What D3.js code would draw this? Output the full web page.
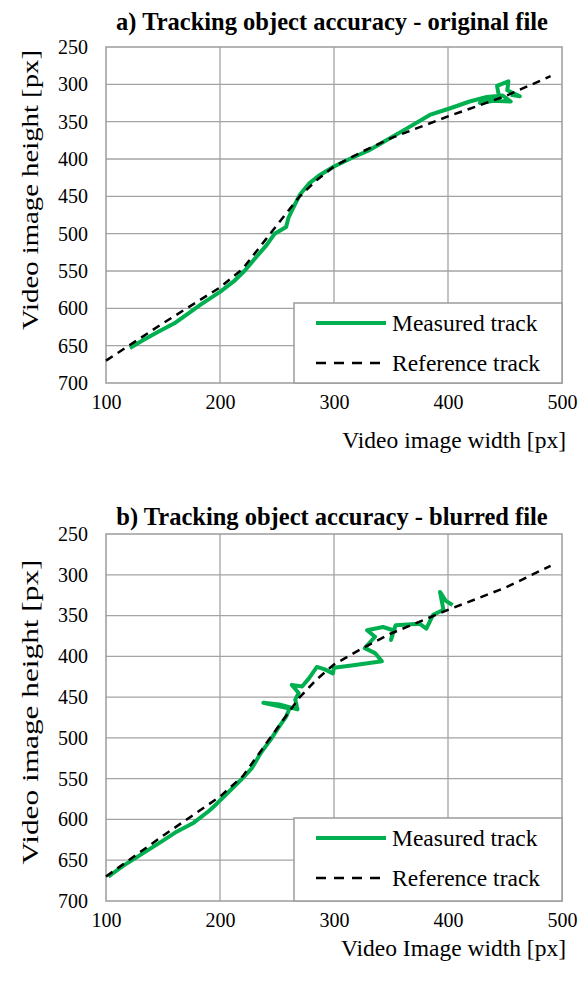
<!DOCTYPE html>
<html>
<head>
<meta charset="utf-8">
<script src="https://cdn.jsdelivr.net/npm/d3@7"></script>
<style>
  body { margin: 0; background: #fff; }
  svg { display: block; }
  text { font-family: "Liberation Serif", "Times New Roman", serif; fill: #000; }
</style>
</head>
<body>
<div id="chart"></div>
<script>
// axis ticks
const xTicks = [100, 200, 300, 400, 500];
const yTicks = [250, 300, 350, 400, 450, 500, 550, 600, 650, 700];

// reference track (same in both panels)
const refX = [100, 150, 200, 220, 240, 258, 270, 285, 300, 325, 350, 400, 450, 490];
const refY = [670, 620, 572, 547, 508, 473, 450, 428, 410, 390, 372, 343, 316, 289];

// measured track, original file
const origX = [121, 132, 145, 160, 172, 183, 200, 212, 222, 232, 241, 248, 258, 260, 264, 270, 278, 288, 300, 315, 330, 346, 364, 384, 402, 419, 434, 448, 455, 440, 428, 445, 443, 453, 452, 463, 455];
const origY = [653, 643, 632, 620, 607, 595, 578, 564, 549, 531, 515, 500, 491, 479, 466, 448, 433, 421, 410, 399, 389, 375, 359, 341, 332, 323, 317, 315, 323, 322, 325, 318, 302, 296, 308, 316, 314];

// measured track, blurred file
const blurX = [102, 115, 133, 150, 162, 177, 190, 197, 210, 218, 228, 236, 244, 251, 258, 261, 238, 252, 268, 266, 269, 263, 272, 278, 285, 292, 299, 300, 317, 342, 336, 327, 336, 329, 343, 352, 350, 354, 375, 381, 387, 396, 393, 398, 404];
const blurY = [670, 657, 641, 626, 615, 604, 590, 581, 563, 552, 537, 518, 503, 488, 474, 464, 457, 459, 465, 453, 445, 435, 437, 427, 413, 416, 421, 414, 411, 406, 396, 390, 376, 368, 364, 368, 380, 362, 360, 366, 349, 343, 321, 332, 337];

const titles = ["a) Tracking object accuracy - original file", "b) Tracking object accuracy - blurred file"];
const xTitles = ["Video image width [px]", "Video Image width [px]"];
const yTitle = "Video image height [px]";
const legendNames = ["Measured track", "Reference track"];

const svg = d3.select("#chart").append("svg")
    .attr("width", 585)
    .attr("height", 981);

const green = "#00b050";

// one panel
function drawPanel(cfg) {
    const left = 106, right = 562;
    const xScale = d3.scaleLinear().domain([100, 500]).range([left, right]);
    const yScale = d3.scaleLinear().domain([250, 700]).range([cfg.top, cfg.bottom]);

    const g = svg.append("g");

    // gridlines
    g.append("g").selectAll("line")
        .data(xTicks.slice(1, -1))
        .join("line")
        .attr("x1", d => xScale(d)).attr("x2", d => xScale(d))
        .attr("y1", cfg.top).attr("y2", cfg.bottom)
        .attr("stroke", "#a3a3a3").attr("stroke-width", 1.3);
    g.append("g").selectAll("line")
        .data(yTicks.slice(1, -1))
        .join("line")
        .attr("x1", left).attr("x2", right)
        .attr("y1", d => yScale(d)).attr("y2", d => yScale(d))
        .attr("stroke", "#a3a3a3").attr("stroke-width", 1.3);

    // plot border
    g.append("rect")
        .attr("x", left).attr("y", cfg.top)
        .attr("width", right - left).attr("height", cfg.bottom - cfg.top)
        .attr("fill", "none").attr("stroke", "#9c9c9c").attr("stroke-width", 1.5);

    // axes (labels only)
    const xAxis = g.append("g")
        .attr("transform", `translate(0, ${cfg.bottom})`)
        .call(d3.axisBottom(xScale).tickValues(xTicks).tickSize(0).tickPadding(12));
    const yAxis = g.append("g")
        .attr("transform", `translate(${left}, 0)`)
        .call(d3.axisLeft(yScale).tickValues(yTicks).tickSize(0).tickPadding(18));
    [xAxis, yAxis].forEach(a => {
        a.select(".domain").remove();
        a.selectAll("text")
            .attr("font-family", "Liberation Serif")
            .attr("font-size", 20)
            .attr("fill", "#000");
    });

    // lines
    const line = d3.line()
        .x(d => xScale(d[0]))
        .y(d => yScale(d[1]));
    const refPts = refX.map((x, i) => [x, refY[i]]);
    const measPts = cfg.mx.map((x, i) => [x, cfg.my[i]]);

    g.append("path")
        .datum(measPts)
        .attr("d", line)
        .attr("fill", "none")
        .attr("stroke", green)
        .attr("stroke-width", 4)
        .attr("stroke-linejoin", "round");
    g.append("path")
        .datum(refPts)
        .attr("d", line)
        .attr("fill", "none")
        .attr("stroke", "#000")
        .attr("stroke-width", 2.5)
        .attr("stroke-dasharray", "8,6");

    // title
    g.append("text")
        .attr("x", 332).attr("y", cfg.titleY)
        .attr("text-anchor", "middle")
        .attr("font-weight", "bold")
        .attr("font-size", 24.5)
        .text(cfg.title);

    // axis titles
    g.append("text")
        .attr("x", 566).attr("y", cfg.xTitleY)
        .attr("text-anchor", "end")
        .attr("font-size", 23.5)
        .text(cfg.xTitle);
    g.append("text")
        .attr("transform", `translate(38, ${cfg.yTitleMid}) rotate(-90)`)
        .attr("text-anchor", "middle")
        .attr("font-size", 24)
        .attr("textLength", cfg.yTitleLen)
        .attr("lengthAdjust", "spacingAndGlyphs")
        .text(yTitle);

    // legend
    const lg = g.append("g").attr("transform", `translate(294, ${cfg.legTop})`);
    lg.append("rect")
        .attr("width", right - 294).attr("height", cfg.bottom - cfg.legTop)
        .attr("fill", "#fff").attr("stroke", "#9c9c9c").attr("stroke-width", 1.5);
    lg.append("line")
        .attr("x1", 22).attr("x2", 92).attr("y1", 20).attr("y2", 20)
        .attr("stroke", green).attr("stroke-width", 4);
    lg.append("line")
        .attr("x1", 22).attr("x2", 92).attr("y1", 60).attr("y2", 60)
        .attr("stroke", "#000").attr("stroke-width", 2.5)
        .attr("stroke-dasharray", "10,8");
    lg.selectAll("text")
        .data(legendNames)
        .join("text")
        .attr("x", 98)
        .attr("y", (d, i) => 28 + i * 40)
        .attr("font-size", 23.5)
        .text(d => d);
}

drawPanel({ top: 47, bottom: 383, legTop: 303, titleY: 30, xTitleY: 448,
    yTitleMid: 190, yTitleLen: 280,
    title: titles[0], xTitle: xTitles[0], mx: origX, my: origY });
drawPanel({ top: 534, bottom: 901, legTop: 818, titleY: 525, xTitleY: 956,
    yTitleMid: 712, yTitleLen: 305,
    title: titles[1], xTitle: xTitles[1], mx: blurX, my: blurY });
</script>
</body>
</html>
